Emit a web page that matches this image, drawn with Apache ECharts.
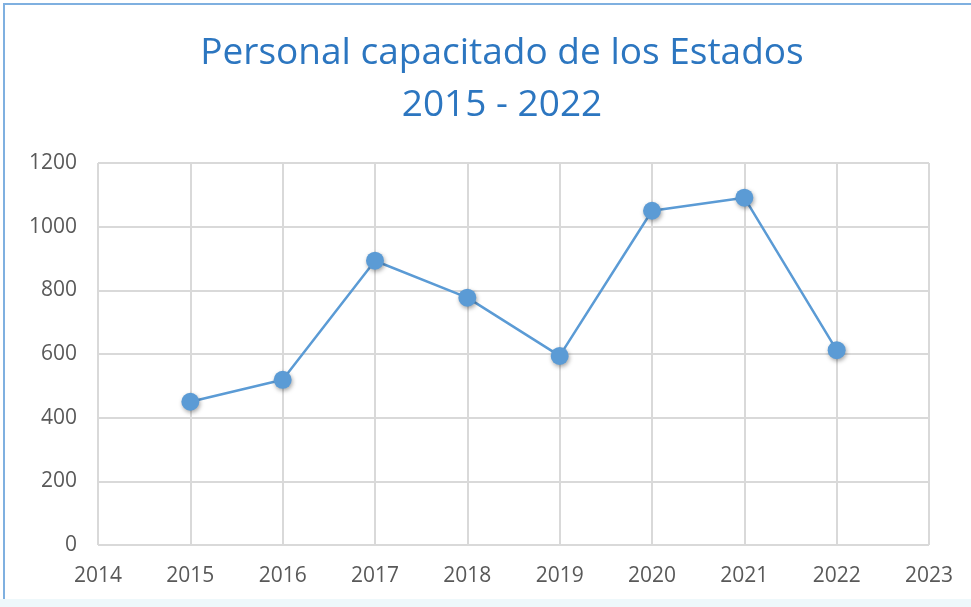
<!DOCTYPE html>
<html>
<head>
<meta charset="utf-8">
<script src="https://cdn.jsdelivr.net/npm/echarts@6/dist/echarts.min.js"></script>
<style>
    html, body { margin: 0; padding: 0; background: #fff; }
    #lineChart { position: absolute; left: 0; top: 0; width: 971px; height: 607px; }
    #frame {
        position: absolute; left: 3px; top: 3px; width: 980px; height: 594px;
        border: 2px solid #7fb0e0; border-right: none; border-bottom: none;
        pointer-events: none;
    }
    #band { position: absolute; left: 0; top: 599px; width: 971px; height: 8px; background: #eef8fb; }
</style>
</head>
<body>
<div id="lineChart"></div>
<div id="frame"></div>
<div id="band"></div>
<script>
const years = [2015, 2016, 2017, 2018, 2019, 2020, 2021, 2022];
const personal = [450, 519, 893, 777, 594, 1050, 1091, 612];
const yTicks = [0, 200, 400, 600, 800, 1000, 1200];

let chartDom = document.getElementById('lineChart');
let myChart = echarts.init(chartDom);
let option;

option = {
    animation: false,
    title: {
        text: 'Personal capacitado de los Estados\n2015 - 2022',
        left: 497,
        textAlign: 'center',
        top: 22,
        textStyle: {
            color: '#2c76c0',
            fontSize: 37,
            fontWeight: 'normal',
            fontFamily: 'Open Sans',
            lineHeight: 52
        }
    },
    grid: {
        left: 98,
        right: 42,
        top: 163,
        bottom: 62
    },
    xAxis: {
        type: 'value',
        min: 2014,
        max: 2023,
        interval: 1,
        axisLine: { show: false },
        axisTick: { show: false },
        axisLabel: {
            color: '#595959',
            fontSize: 21,
            fontFamily: 'Open Sans',
            margin: 21,
            formatter: v => String(v)
        },
        splitLine: {
            lineStyle: { color: '#d9d9d9', width: 2 }
        }
    },
    yAxis: {
        type: 'value',
        min: yTicks[0],
        max: yTicks[yTicks.length - 1],
        interval: 200,
        axisLine: { show: false },
        axisTick: { show: false },
        axisLabel: {
            color: '#595959',
            fontSize: 21,
            fontFamily: 'Open Sans',
            margin: 21,
            formatter: v => String(v)
        },
        splitLine: {
            lineStyle: { color: '#d9d9d9', width: 2 }
        }
    },
    series: [
        {
            type: 'line',
            data: years.map((y, i) => [y, personal[i]]),
            symbol: 'circle',
            symbolSize: 18,
            lineStyle: { color: '#5b9bd5', width: 2.5 },
            itemStyle: {
                color: '#5b9bd5',
                shadowColor: 'rgba(0,0,0,0.35)',
                shadowBlur: 4,
                shadowOffsetX: 1,
                shadowOffsetY: 2
            }
        }
    ]
};

option && myChart.setOption(option);
</script>
</body>
</html>
